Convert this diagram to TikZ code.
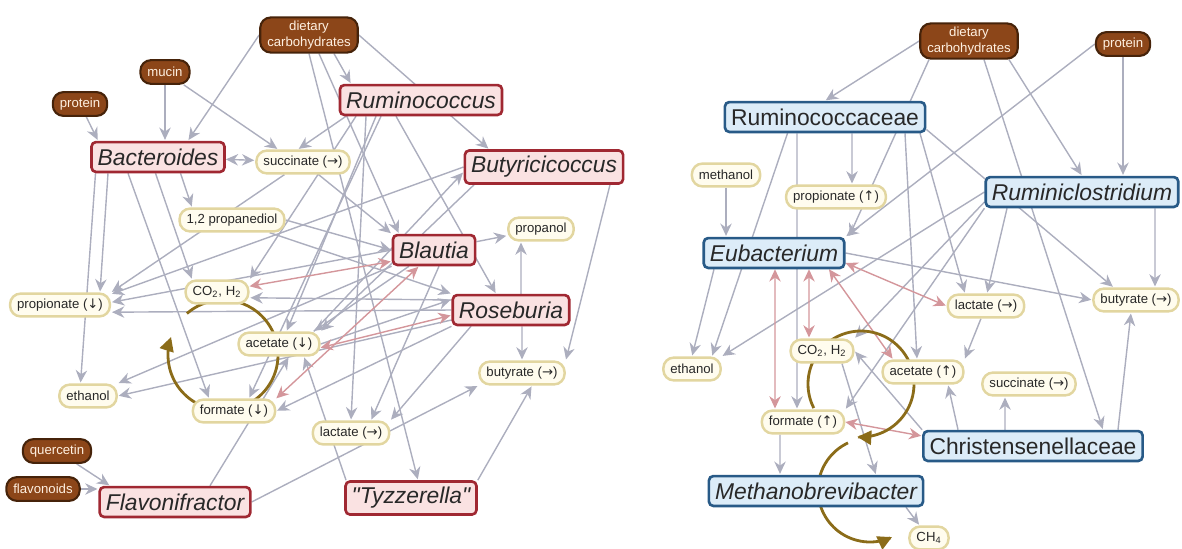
\documentclass[tikz,border=0pt]{standalone}
\usepackage{fontspec}
\setmainfont{Liberation Sans}
\newfontfamily\arrowfnt{DejaVu Sans}
\usetikzlibrary{arrows.meta,backgrounds}

\definecolor{redfill}{RGB}{250,226,226}
\definecolor{redline}{RGB}{160,40,50}
\definecolor{bluefill}{RGB}{220,236,248}
\definecolor{blueline}{RGB}{40,90,135}
\definecolor{metfill}{RGB}{255,252,238}
\definecolor{metline}{RGB}{226,214,160}
\definecolor{dietfill}{RGB}{140,70,25}
\definecolor{dietline}{RGB}{70,35,10}
\definecolor{diettext}{RGB}{255,240,225}
\definecolor{edgegray}{RGB}{172,174,190}
\definecolor{edgepink}{RGB}{212,150,155}
\definecolor{cycol}{RGB}{139,108,25}
\definecolor{txt}{RGB}{40,40,40}

\newcommand\arD{{\arrowfnt ↓}}
\newcommand\arU{{\arrowfnt ↑}}
\newcommand\arR{{\arrowfnt →}}

\begin{document}
\begin{tikzpicture}[x=0.02cm,y=-0.02cm,>={Stealth[length=7pt,width=6.5pt]},shorten >=0.5pt,
  red node/.style={draw=redline,fill=redfill,line width=1.5pt,rounded corners=2.5pt,
    minimum height=17pt,inner xsep=3.5pt,text=txt,font=\fontsize{13}{15}\selectfont\itshape},
  blue node/.style={red node,draw=blueline,fill=bluefill},
  blue family/.style={blue node,font=\fontsize{13}{15}\selectfont},
  metab node/.style={draw=metline,fill=metfill,line width=1.4pt,rounded corners=6pt,
    minimum height=13pt,inner xsep=4pt,inner ysep=1.5pt,text=txt,font=\fontsize{7.5}{9}\selectfont},
  diet node/.style={draw=dietline,fill=dietfill,line width=1.2pt,rounded corners=6pt,
    minimum height=13.5pt,inner xsep=4pt,inner ysep=2pt,text=diettext,align=center,
    font=\fontsize{7.5}{9}\selectfont},
  feed/.style={->,color=edgegray,line width=0.8pt},
  pink edge/.style={<->,color=edgepink,line width=0.8pt},
  loop arrow/.style={-{Triangle[length=8pt,width=8pt]},color=cycol,line width=1.6pt}]
  \useasboundingbox (0,0) rectangle (1182,548);

  % left: sources and taxa
  \node[diet node] (diet1) at (309,35) {dietary\\carbohydrates};
  \node[diet node] (mucin) at (165,72) {mucin};
  \node[diet node] (prot1) at (80,104) {protein};
  \node[red node] (Bact) at (158,157) {Bacteroides};
  \node[metab node] (succ1) at (303,162) {succinate (\arR)};
  \node[red node] (Rumi) at (421,100) {Ruminococcus};
  \node[red node] (Buty) at (544,167) {Butyricicoccus};
  \node[metab node] (pdiol) at (232,220) {1,2 propanediol};
  \node[red node] (Blau) at (434,250) {Blautia};
  \node[metab node] (propanol) at (541,229) {propanol};
  \node[red node] (Rose) at (511,310) {Roseburia};
  \node[metab node] (co2L) at (217,292) {CO\textsubscript{2}, H\textsubscript{2}};
  \node[metab node] (propL) at (60,305) {propionate (\arD)};
  \node[metab node] (aceL) at (279,344) {acetate (\arD)};
  \node[metab node] (ethL) at (88,396) {ethanol};
  \node[metab node] (formL) at (234,411) {formate (\arD)};
  \node[metab node] (lacL) at (351,433) {lactate (\arR)};
  \node[metab node] (butL) at (522,373) {butyrate (\arR)};
  \node[diet node] (quer) at (57,451) {quercetin};
  \node[diet node] (flavo) at (43,489) {flavonoids};
  \node[red node] (Flav) at (175,502) {Flavonifractor};
  \node[red node] (Tyzz) at (411,498) {\textquotedbl Tyzzerella\textquotedbl};

  % right: sources and taxa
  \node[diet node] (diet2) at (969,41) {dietary\\carbohydrates};
  \node[diet node] (prot2) at (1123,44) {protein};
  \node[blue family] (Rumc) at (825,117) {Ruminococcaceae};
  \node[blue node] (Rcl) at (1082,192) {Ruminiclostridium};
  \node[metab node] (meth) at (726,175) {methanol};
  \node[metab node] (propR) at (836,197) {propionate (\arU)};
  \node[blue node] (Eub) at (774,253) {Eubacterium};
  \node[metab node] (lacR) at (986,306) {lactate (\arR)};
  \node[metab node] (butR) at (1136,300) {butyrate (\arR)};
  \node[metab node] (co2R) at (822,351) {CO\textsubscript{2}, H\textsubscript{2}};
  \node[metab node] (aceR) at (923,372) {acetate (\arU)};
  \node[metab node] (ethR) at (692,369) {ethanol};
  \node[metab node] (succR) at (1029,384) {succinate (\arR)};
  \node[metab node] (formR) at (803,422) {formate (\arU)};
  \node[blue family] (Chr) at (1033,446) {Christensenellaceae};
  \node[blue node] (Meth) at (816,491) {Methanobrevibacter};
  \node[metab node] (ch4) at (929,538) {CH\textsubscript{4}};

  \begin{pgfonlayer}{background}
  % left panel
  \path[feed]
    (prot1) edge ([xshift=-1.2cm]Bact.north)
    (mucin.south) edge (mucin.south |- Bact.north)
    (diet1.west) edge ([xshift=0.6cm]Bact.north)
    (mucin) edge ([xshift=-0.5cm]succ1.north)
    ([xshift=-1.5cm]Rumi.south) edge ([xshift=-0.1cm]succ1.north)
    ([xshift=0.5cm]diet1.south) edge ([xshift=-1.4cm]Rumi.north)
    (diet1.east) edge ([xshift=-1.1cm]Buty.north)
    ([xshift=0.2cm]diet1.south) edge ([xshift=-0.7cm]Blau.north)
    (diet1.south) edge ([xshift=0.14cm]Tyzz.north)
    ([xshift=-0.5cm]Rumi.south) edge ([xshift=-0.3cm]Rose.north)
    ([xshift=-1.1cm]Rumi.south) edge (lacL.north)
    ([xshift=-0.8cm]Rumi.south) edge ([xshift=0.3cm]formL.north)
    ([xshift=-0.9cm]Rumi.south) edge ([xshift=0.15cm]aceL.north)
    ([xshift=-1.3cm]Rumi.south) edge (co2L.north east)
    (succ1) edge (Blau.north west)
    (succ1) edge (propL.north east)
    ([xshift=0.45cm]Bact.south) edge ([xshift=-0.8cm]pdiol.north)
    ([xshift=-1cm]Bact.south) edge ([xshift=0.8cm]propL.north)
    ([xshift=-1.25cm]Bact.south) edge ([xshift=-0.15cm]ethL.north)
    ([xshift=-0.05cm]Bact.south) edge ([xshift=-0.5cm]co2L.north)
    ([xshift=-0.6cm]Bact.south) edge ([xshift=-0.5cm]formL.north)
    (pdiol.east) edge (Blau.west)
    (pdiol) edge (Rose.north west)
    (Blau) edge (propanol)
    ([xshift=0.2cm]Rose.north) edge ([xshift=-0.4cm]propanol.south)
    ([xshift=0.22cm]Rose.south) edge (butL.north)
    ([xshift=1.32cm]Buty.south) edge (butL.north east)
    (Buty.west) edge (propL.12)
    ([xshift=-1.4cm]Buty.south) edge (aceL.north east)
    (Blau.south west) edge (ethL.north east)
    (Blau.west) edge (propL.3)
    ([xshift=-0.5cm]Blau.south) edge ([xshift=0.7cm]aceL.north)
    ([xshift=0.1cm]Blau.south) edge ([xshift=0.4cm]lacL.north)
    (Rose.west) edge (propL.-8)
    ([yshift=0.2cm]Rose.west) edge (co2L.-10)
    ([yshift=-0.2cm]Rose.west) edge (ethL.east)
    (Rose.south west) edge (formL.east)
    ([xshift=-0.8cm]Rose.south) edge (lacL.north east)
    (aceL.20) edge ([yshift=-0.1cm]Buty.west)
    (aceL.east) edge (Rose.170)
    ([xshift=-1.3cm]Tyzz.north) edge ([xshift=0.5cm]aceL.south)
    (Tyzz.north east) edge ([xshift=0.2cm]butL.south)
    (Flav.east) edge (butL.south west)
    ([xshift=0.7cm]Flav.north) edge ([xshift=0.2cm]aceL.south)
    (quer) edge ([xshift=-1.3cm]Flav.north)
    (flavo.east) edge (flavo.east -| Flav.west);
  \path[feed,<->] (Bact) edge (succ1);
  \path[pink edge]
    (co2L.10) edge (Blau.195)
    (formL.north east) edge ([xshift=-0.3cm]Blau.south)
    (aceL.-5) edge (Rose.185);
  \draw[loop arrow] plot[smooth,domain=229:560,samples=60]
    ({223+55*cos(\x)},{355+55*sin(\x)});

  % right panel
  \path[feed]
    (diet2.west) edge (Rumc.north)
    ([xshift=-0.8cm]diet2.south) edge ([xshift=1.5cm]Eub.north)
    ([xshift=0.8cm]diet2.south) edge (Rcl.north)
    ([xshift=0.3cm]diet2.south) edge ([xshift=1.4cm]Chr.north)
    (prot2) edge (prot2 |- Rcl.north)
    (prot2.west) edge (Eub.north east)
    ([xshift=0.54cm]Rumc.south) edge ([xshift=0.32cm]propR.north)
    (meth) edge (meth |- Eub.north)
    ([xshift=-0.75cm]Rumc.south) edge ([xshift=0.4cm]ethR.north)
    ([xshift=-1.2cm]Eub.south) edge (ethR.north)
    (Rcl.west) edge (ethR.north east)
    ([xshift=-0.56cm]Rumc.south) edge ([xshift=-0.12cm]formR.north)
    (Eub.east) edge (butR.west)
    ([yshift=-0.25cm]Rumc.east) edge ([xshift=-0.45cm]butR.north)
    ([xshift=1.46cm]Rcl.south) edge ([xshift=0.38cm]butR.north)
    ([xshift=1.9cm]Rumc.south) edge ([xshift=-0.42cm]lacR.north)
    ([xshift=-1.5cm]Rcl.south) edge ([xshift=0.02cm]lacR.north)
    (lacR) edge (aceR.north east)
    ([xshift=1.6cm]Rumc.south) edge ([xshift=-0.12cm]aceR.north)
    ([yshift=-0.2cm]Rcl.west) edge (co2R.north east)
    (Rcl.south west) edge (formR.north east)
    ([xshift=-1.5cm]Chr.north) edge ([xshift=0.5cm]aceR.south)
    (Chr.north west) edge (co2R.east)
    ([xshift=-0.56cm]Chr.north) edge ([xshift=-0.48cm]succR.south)
    ([xshift=1.7cm]Chr.north) edge ([xshift=-0.1cm]butR.south)
    ([xshift=-0.46cm]formR.south) edge ([xshift=-0.72cm]Meth.north)
    ([xshift=0.4cm]co2R.south) edge ([xshift=1.2cm]Meth.north)
    ([xshift=1.8cm]Meth.south) edge (ch4);
  \path[pink edge]
    ([xshift=0.02cm]Eub.south) edge ([xshift=-0.56cm]formR.north)
    ([xshift=0.7cm]Eub.south) edge ([xshift=-0.26cm]co2R.north)
    ([xshift=1.1cm]Eub.south) edge ([xshift=-0.6cm]aceR.north)
    ([yshift=-0.2cm]Eub.east) edge (lacR.west)
    (formR.east) edge ([yshift=0.2cm]Chr.west);
  \draw[loop arrow] plot[smooth,domain=153:455,samples=60]
    ({861+53*cos(\x)},{384+53*sin(\x)});
  \draw[loop arrow] plot[smooth,domain=0:181,samples=50]
    ({870+52*cos(245-\x)},{490+52*sin(245-\x)});
  \end{pgfonlayer}
\end{tikzpicture}
\end{document}
